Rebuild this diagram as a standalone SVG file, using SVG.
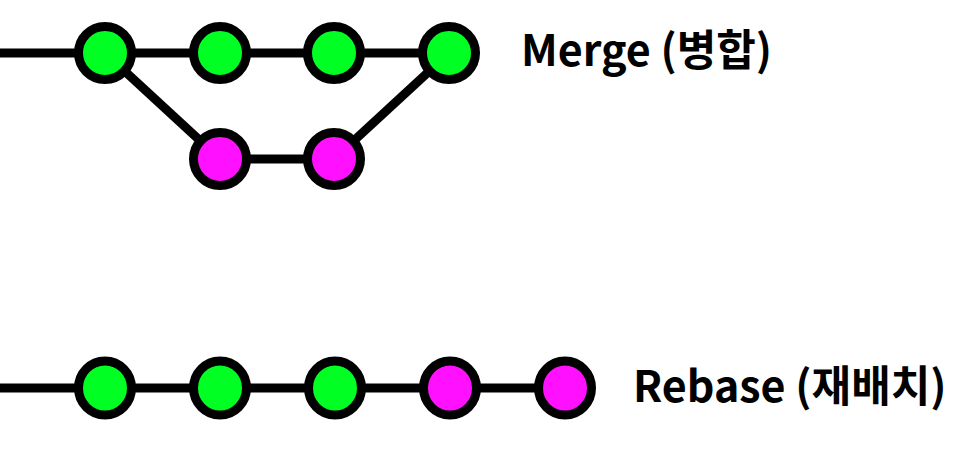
<svg xmlns="http://www.w3.org/2000/svg" width="968" height="461" viewBox="0 0 968 461">
<style>
.edge{stroke:#000;stroke-width:9;fill:none}
.g{fill:#00ff22;stroke:#000;stroke-width:9}
.p{fill:#ff10ff;stroke:#000;stroke-width:9}
.lbl{font-family:"Noto Sans CJK KR","Noto Sans",sans-serif;font-weight:bold;font-size:43px;fill:#000}
</style>
<rect width="968" height="461" fill="#fff"/>
<g id="connectors">
<line class="edge" x1="0" y1="53" x2="449" y2="53"/>
<line class="edge" x1="105" y1="53" x2="220" y2="159"/>
<line class="edge" x1="220" y1="159" x2="334" y2="159"/>
<line class="edge" x1="334" y1="159" x2="449" y2="53"/>
<line class="edge" x1="0" y1="388" x2="565" y2="388"/>
</g>
<g id="m1"><circle class="g" cx="105" cy="53" r="26.5"/></g>
<g id="m2"><circle class="g" cx="220" cy="53" r="26.5"/></g>
<g id="m3"><circle class="g" cx="334" cy="53" r="26.5"/></g>
<g id="m4"><circle class="g" cx="449" cy="53" r="26.5"/></g>
<g id="b1"><circle class="p" cx="220" cy="159" r="26.5"/></g>
<g id="b2"><circle class="p" cx="334" cy="159" r="26.5"/></g>
<g id="r1"><ellipse class="g" cx="105" cy="388" rx="26.5" ry="27"/></g>
<g id="r2"><ellipse class="g" cx="220" cy="388" rx="26.5" ry="27"/></g>
<g id="r3"><ellipse class="g" cx="335" cy="388" rx="26.5" ry="27"/></g>
<g id="r4"><ellipse class="p" cx="450" cy="388" rx="26.5" ry="27"/></g>
<g id="r5"><ellipse class="p" cx="565" cy="388" rx="26.5" ry="27"/></g>
<g id="label-merge"><text class="lbl" x="521" y="66">Merge (병합)</text></g>
<g id="label-rebase"><text class="lbl" x="633" y="402">Rebase (재배치)</text></g>
</svg>
